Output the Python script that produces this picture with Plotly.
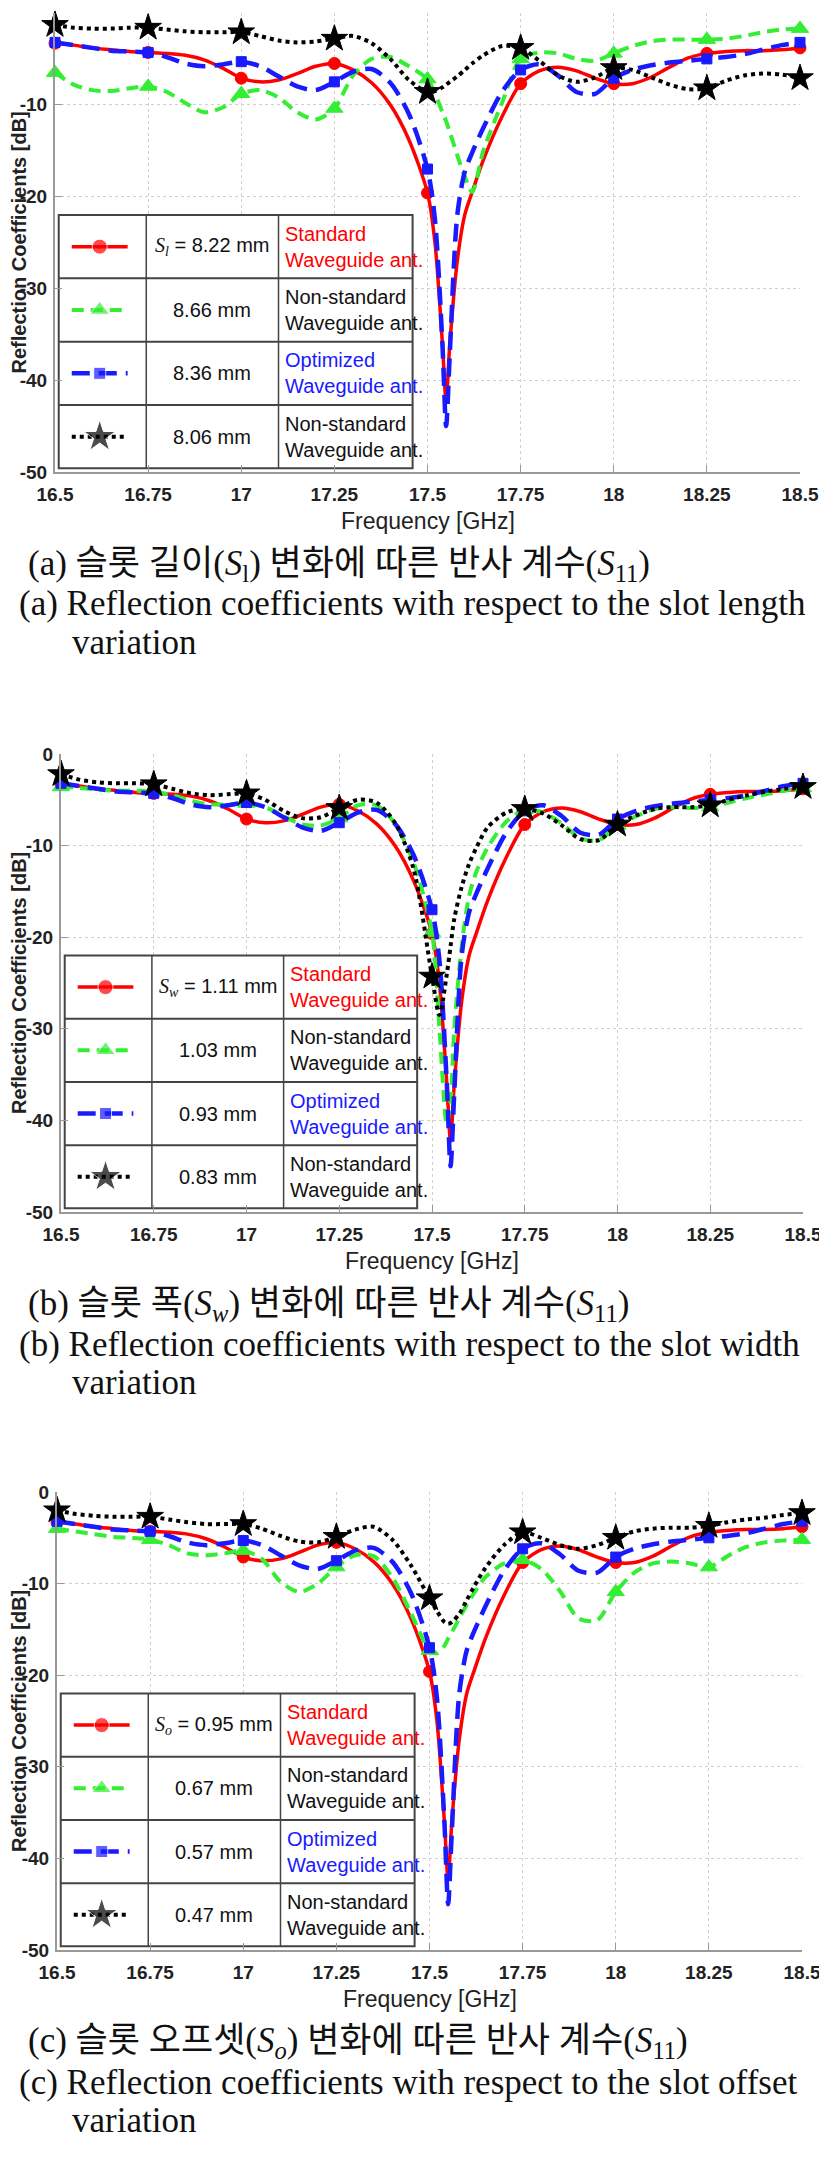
import plotly.graph_objects as go

W, H = 827, 2159
OFF = 8  # page body margin offset of the rendered figure

# ---------------- data ----------------
freq = [16.5, 16.55, 16.6, 16.65, 16.7, 16.75, 16.8, 16.85, 16.9, 16.95,
        17.0, 17.05, 17.1, 17.15, 17.2, 17.25, 17.3, 17.35, 17.4, 17.45,
        17.5, 17.52, 17.54, 17.55, 17.56, 17.58, 17.6, 17.62, 17.65, 17.7,
        17.75, 17.8, 17.85, 17.9, 17.95, 18.0, 18.05, 18.1, 18.15, 18.2,
        18.25, 18.3, 18.35, 18.4, 18.45, 18.5]

standard = [-3.3, -3.5, -3.8, -4.0, -4.2, -4.3, -4.4, -4.6, -5.1, -6.0,
            -7.1, -7.5, -7.3, -6.6, -5.8, -5.5, -6.2, -7.6, -10.0, -13.8,
            -19.6, -25.0, -36.0, -42.3, -36.0, -27.0, -22.0, -19.5, -16.0, -11.3,
            -7.7, -6.3, -5.9, -6.3, -7.1, -7.7, -7.7, -7.0, -5.9, -4.9,
            -4.4, -4.2, -4.1, -4.1, -4.0, -3.8]

optimized = [-3.2, -3.5, -3.8, -4.1, -4.2, -4.3, -4.8, -5.5, -5.8, -5.6,
             -5.3, -5.8, -6.9, -8.0, -8.4, -7.5, -6.4, -6.1, -7.6, -11.0,
             -17.0, -22.5, -36.0, -45.0, -37.0, -22.0, -17.3, -15.2, -12.5, -8.6,
             -6.2, -5.6, -6.8, -8.6, -8.8, -7.1, -6.2, -5.7, -5.4, -5.2,
             -5.0, -4.8, -4.5, -4.0, -3.5, -3.2]

len_green = [-6.5, -7.8, -8.4, -8.5, -8.2, -8.0, -8.6, -9.8, -10.8, -10.3,
             -8.8, -8.4, -9.2, -10.8, -11.6, -10.4, -6.8, -5.0, -4.8, -5.8,
             -7.2, -8.8, -10.8, -11.8, -13.0, -15.5, -17.8, -19.5, -15.0, -9.8,
             -5.0, -4.3, -4.4, -5.0, -5.2, -4.4, -3.6, -3.1, -2.9, -2.9,
             -2.9, -2.8, -2.5, -2.1, -1.8, -1.7]

len_black = [-1.3, -1.6, -1.7, -1.7, -1.6, -1.6, -1.8, -2.0, -2.1, -2.1,
             -2.1, -2.5, -3.0, -3.2, -3.1, -2.8, -2.5, -3.3, -5.0, -7.3,
             -8.6, -8.5, -8.1, -7.8, -7.5, -6.9, -6.2, -5.5, -4.6, -3.6,
             -3.8, -5.2, -6.8, -7.5, -7.0, -6.0, -6.2, -7.0, -7.8, -8.3,
             -8.2, -7.4, -6.8, -6.6, -6.7, -7.1]

wid_green = [-3.6, -3.7, -3.9, -4.0, -4.0, -4.1, -4.5, -5.1, -5.5, -5.5,
             -5.4, -5.8, -6.8, -7.7, -7.8, -7.0, -5.6, -5.6, -7.6, -11.8,
             -19.5, -30.0, -40.5, -38.0, -30.0, -21.0, -15.5, -12.8, -10.2, -7.4,
             -6.1, -6.4, -7.6, -9.2, -9.4, -7.8, -6.8, -6.0, -5.8, -5.9,
             -5.8, -5.3, -4.8, -4.4, -4.0, -3.7]

wid_black = [-2.2, -2.8, -3.1, -3.2, -3.2, -3.3, -3.8, -4.3, -4.5, -4.4,
             -4.3, -5.0, -6.2, -7.0, -6.9, -5.9, -5.0, -5.3, -7.5, -12.5,
             -24.3, -28.5, -24.0, -21.0, -18.0, -14.5, -12.0, -10.2, -8.0, -6.4,
             -6.0, -6.5, -7.8, -9.3, -9.4, -7.7, -6.7, -6.0, -5.8, -5.8,
             -5.6, -5.0, -4.5, -4.1, -3.8, -3.6]

off_green = [-4.0, -4.3, -4.6, -4.9, -5.0, -5.2, -5.8, -6.7, -6.9, -6.7,
             -6.4, -7.3, -9.8, -10.9, -10.0, -8.2, -6.9, -7.0, -9.3, -13.2,
             -17.3, -17.6, -16.8, -16.0, -15.3, -13.8, -12.3, -11.0, -9.3, -7.8,
             -7.4, -8.4, -10.8, -13.8, -14.0, -10.9, -8.8, -7.8, -7.6, -7.8,
             -8.2, -7.0, -6.0, -5.5, -5.3, -5.2]

off_black = [-2.0, -2.4, -2.6, -2.7, -2.7, -2.7, -3.0, -3.3, -3.5, -3.5,
             -3.5, -4.0, -4.8, -5.4, -5.5, -4.9, -4.1, -3.8, -5.2, -8.0,
             -11.6, -13.0, -14.2, -14.4, -14.2, -13.3, -11.8, -10.3, -8.3, -5.8,
             -4.4, -5.0, -5.8, -6.2, -5.8, -5.0, -4.3, -4.0, -3.9, -3.9,
             -3.7, -3.3, -3.0, -2.8, -2.5, -2.3]

marker_freq = [16.5, 16.75, 17.0, 17.25, 17.5, 17.75, 18.0, 18.25, 18.5]
x_tickvals = [16.5, 16.75, 17.0, 17.25, 17.5, 17.75, 18.0, 18.25, 18.5]
x_ticktext = ["16.5", "16.75", "17", "17.25", "17.5", "17.75", "18", "18.25", "18.5"]
y_tickvals = [0, -10, -20, -30, -40, -50]
y_ticktext = ["0", "-10", "-20", "-30", "-40", "-50"]

len_labels = ["8.22 mm", "8.66 mm", "8.36 mm", "8.06 mm"]
wid_labels = ["1.11 mm", "1.03 mm", "0.93 mm", "0.83 mm"]
off_labels = ["0.95 mm", "0.67 mm", "0.57 mm", "0.47 mm"]
param_subs = ["l", "w", "o"]
type_labels = ["Standard<br>Waveguide ant.", "Non-standard<br>Waveguide ant.",
               "Optimized<br>Waveguide ant.", "Non-standard<br>Waveguide ant."]

cap_ko = [
    "(a) 슬롯 길이(<i>S</i><sub>l</sub>) 변화에 따른 반사 계수(<i>S</i><sub>11</sub>)",
    "(b) 슬롯 폭(<i>S<sub>w</sub></i>) 변화에 따른 반사 계수(<i>S</i><sub>11</sub>)",
    "(c) 슬롯 오프셋(<i>S<sub>o</sub></i>) 변화에 따른 반사 계수(<i>S</i><sub>11</sub>)",
]
cap_en = [
    "(a) Reflection coefficients with respect to the slot length",
    "(b) Reflection coefficients with respect to the slot width",
    "(c) Reflection coefficients with respect to the slot offset",
]
cap_en2 = "variation"

# ---------------- styling ----------------
RED, GREEN, BLUE, BLACK = "#ff0000", "#33ee33", "#1a1aff", "#000000"
styles = [
    dict(color=RED, dash="solid", width=3.5, symbol="circle", msize=12, lsize=15),
    dict(color=GREEN, dash="12px,7px", width=4, symbol="triangle-up", msize=15, lsize=17),
    dict(color=BLUE, dash="18px,9px", width=4.5, symbol="square", msize=10, lsize=12),
    dict(color=BLACK, dash="4px,4px", width=4, symbol="star", msize=20, lsize=24),
]

# panel plot areas in screen pixels: (x0, x1, ytop, ybottom)
panels = [(55, 800, 13, 472), (61, 803, 754, 1212), (57, 802, 1492, 1950)]
series_sets = [
    [standard, len_green, optimized, len_black],
    [standard, wid_green, optimized, wid_black],
    [standard, off_green, optimized, off_black],
]
label_sets = [len_labels, wid_labels, off_labels]

NARROW = "Liberation Sans Narrow, Liberation Sans, Arial"
TICKFONT = dict(family=NARROW, size=19, color="#222", weight=700)
LEGFONT = NARROW
SERIF = "Liberation Serif, Noto Sans CJK KR, serif"

LEG_X = [16.51, 16.745, 17.10, 17.46]
LEG_Y = [-22.0, -28.9, -35.8, -42.7, -49.6]


def px(xp):
    return (xp - OFF) / W


def py(yp):
    return 1 - (yp - OFF) / H


fig = go.Figure()
layout = dict(width=W, height=H, margin=dict(l=0, r=0, t=0, b=0, autoexpand=False),
              paper_bgcolor="white", plot_bgcolor="white", showlegend=False)
shapes, annotations = [], []

for p, (x0, x1, yt, yb) in enumerate(panels):
    sfx = "" if p == 0 else str(p + 1)
    xr, yr = "x" + sfx, "y" + sfx
    layout["xaxis" + sfx] = dict(
        domain=[px(x0), px(x1)], anchor=yr, range=[16.5, 18.5], automargin=False,
        tickvals=x_tickvals, ticktext=x_ticktext, tickfont=TICKFONT,
        showgrid=True, gridcolor="#d0d0d0", griddash="dot", gridwidth=1,
        showline=True, linecolor="#999", linewidth=2, zeroline=False,
        ticks="inside", ticklen=7, tickcolor="#999", ticklabelstandoff=4)
    layout["yaxis" + sfx] = dict(
        domain=[py(yb), py(yt)], anchor=xr, range=[-50, 0], automargin=False,
        tickvals=y_tickvals, ticktext=y_ticktext, tickfont=TICKFONT,
        showgrid=True, gridcolor="#d0d0d0", griddash="dot", gridwidth=1,
        showline=True, linecolor="#999", linewidth=2, zeroline=False,
        ticks="inside", ticklen=7, tickcolor="#999", ticklabelstandoff=2)

    # curves
    for s, vals in zip(styles, series_sets[p]):
        fig.add_trace(go.Scatter(
            x=freq, y=vals, mode="lines", xaxis=xr, yaxis=yr,
            line=dict(color=s["color"], dash=s["dash"], width=s["width"],
                      shape="spline", smoothing=0.8)))
        mx = [f for f in freq if f in marker_freq]
        my = [v for f, v in zip(freq, vals) if f in marker_freq]
        fig.add_trace(go.Scatter(
            x=mx, y=my, mode="markers", xaxis=xr, yaxis=yr, cliponaxis=False,
            marker=dict(symbol=s["symbol"], size=s["msize"], color=s["color"],
                        line=dict(width=1, color=s["color"]))))

    # legend table
    shapes.append(dict(type="rect", xref=xr, yref=yr, x0=LEG_X[0], x1=LEG_X[-1],
                       y0=LEG_Y[0], y1=LEG_Y[-1], fillcolor="white",
                       line=dict(color="#444", width=2), layer="between"))
    for xv in LEG_X[1:-1]:
        shapes.append(dict(type="line", xref=xr, yref=yr, x0=xv, x1=xv,
                           y0=LEG_Y[0], y1=LEG_Y[-1], line=dict(color="#444", width=1.5),
                           layer="between"))
    for yv in LEG_Y[1:-1]:
        shapes.append(dict(type="line", xref=xr, yref=yr, x0=LEG_X[0], x1=LEG_X[-1],
                           y0=yv, y1=yv, line=dict(color="#444", width=2),
                           layer="between"))
    for r, s in enumerate(styles):
        yc = (LEG_Y[r] + LEG_Y[r + 1]) / 2
        fig.add_trace(go.Scatter(
            x=[16.545, 16.62, 16.695], y=[yc, yc, yc], mode="lines+markers",
            xaxis=xr, yaxis=yr,
            line=dict(color=s["color"], dash=s["dash"], width=s["width"]),
            marker=dict(symbol=s["symbol"], size=[0, s["lsize"], 0], color=s["color"])))
        if r == 0:
            t2 = ("<span style='font-family:Liberation Serif'><i>S<sub>%s</sub></i></span>"
                  " = %s" % (param_subs[p], label_sets[p][r]))
        else:
            t2 = label_sets[p][r]
        annotations.append(dict(xref=xr, yref=yr, x=(LEG_X[1] + LEG_X[2]) / 2, y=yc,
                                text=t2, showarrow=False, xanchor="center", yanchor="middle",
                                font=dict(family=LEGFONT, size=20, color="#111")))
        col = [RED, "#111", BLUE, "#111"][r]
        annotations.append(dict(xref=xr, yref=yr, x=LEG_X[2] + 0.012, y=yc,
                                text=type_labels[r], showarrow=False, xanchor="left",
                                yanchor="middle", align="left",
                                font=dict(family=LEGFONT, size=20, color=col)))

    # axis titles
    annotations.append(dict(xref="paper", yref="paper", x=px(19), y=py((yt + yb) / 2),
                            text="Reflection Coefficients [dB]", textangle=-90,
                            showarrow=False, xanchor="center", yanchor="middle",
                            font=dict(family="Liberation Sans, Arial", size=20, color="#222", weight=700)))
    annotations.append(dict(xref="paper", yref="paper", x=px((x0 + x1) / 2), y=py(yb + 49),
                            text="Frequency [GHz]", showarrow=False,
                            xanchor="center", yanchor="middle",
                            font=dict(family=NARROW, size=23, color="#222")))
    # captions
    annotations.append(dict(xref="paper", yref="paper", x=px(26), y=py(yb + 93),
                            text=cap_ko[p], showarrow=False, xanchor="left", yanchor="middle",
                            font=dict(family=SERIF, size=35, color="#111")))
    annotations.append(dict(xref="paper", yref="paper", x=px(17), y=py(yb + 132),
                            text=cap_en[p], showarrow=False, xanchor="left", yanchor="middle",
                            font=dict(family=SERIF, size=35, color="#111")))
    annotations.append(dict(xref="paper", yref="paper", x=px(70), y=py(yb + 170),
                            text=cap_en2, showarrow=False, xanchor="left", yanchor="middle",
                            font=dict(family=SERIF, size=35, color="#111")))

layout["shapes"] = shapes
layout["annotations"] = annotations
fig.update_layout(**layout)
fig.write_html("out.html")
